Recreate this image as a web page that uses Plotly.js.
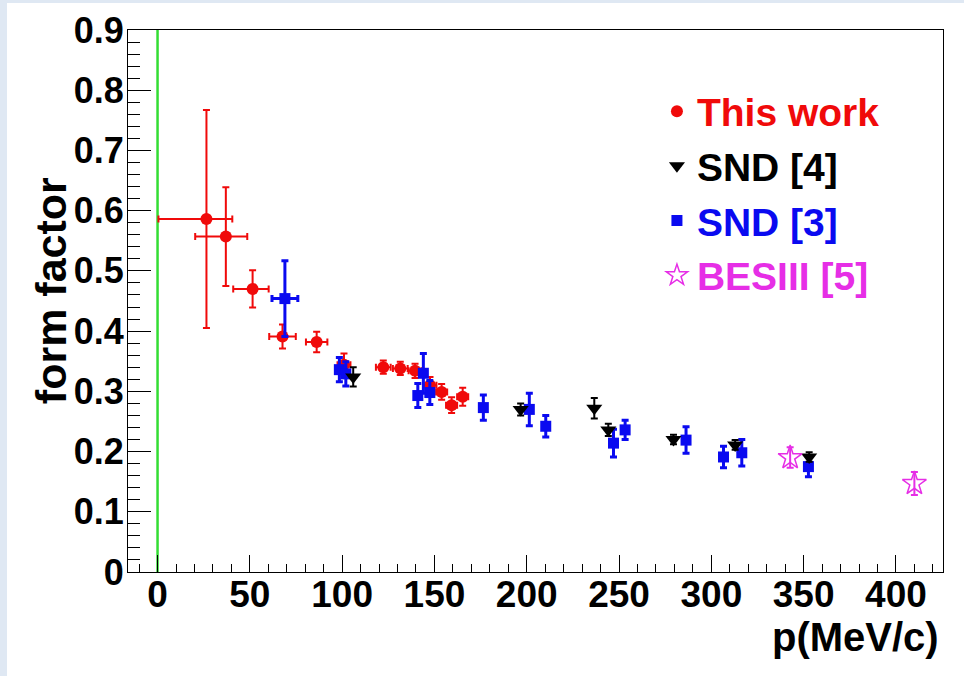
<!DOCTYPE html>
<html>
<head>
<meta charset="utf-8">
<script src="https://cdn.plot.ly/plotly-3.0.1.min.js"></script>
<style>
html,body{margin:0;padding:0;background:#dfe8f3;width:964px;height:676px;overflow:hidden;}
#chart{position:absolute;left:7px;top:3px;width:957px;height:673px;background:#fff;}
</style>
</head>
<body>
<div id="chart"></div>
<script>
// This work
const redX = [26.5, 37.0, 51.5, 67.7, 86.2, 101.0, 122.3, 131.5, 139.5, 147.6, 153.9, 159.3, 165.3];
const redY = [0.586, 0.557, 0.470, 0.391, 0.382, 0.344, 0.340, 0.338, 0.334, 0.310, 0.299, 0.277, 0.291];
const redYErr = [0.181, 0.082, 0.031, 0.020, 0.017, 0.019, 0.011, 0.011, 0.012, 0.014, 0.013, 0.013, 0.015];
const redXErrMinus = [26.0, 16.6, 10.5, 7.2, 5.8, 3.5, 4.0, 4.0, 3.5, 3.5, 3.0, 3.0, 3.0];
const redXErrPlus = [14.0, 11.6, 8.7, 7.2, 5.8, 3.5, 4.0, 4.0, 3.5, 3.5, 3.0, 3.0, 3.0];
// SND [4]
const snd4X = [106.0, 196.7, 236.6, 244.2, 279.5, 312.9, 353.0];
const snd4Y = [0.324, 0.270, 0.272, 0.236, 0.220, 0.211, 0.191];
const snd4Err = [0.016, 0.010, 0.017, 0.010, 0.008, 0.008, 0.008];
// SND [3]
const snd3X = [69.0, 98.5, 102.0, 141.0, 144.0, 147.5, 176.5, 201.4, 210.3, 247.0, 253.3, 286.3, 306.6, 316.5, 352.6];
const snd3Y = [0.454, 0.336, 0.329, 0.293, 0.330, 0.298, 0.273, 0.270, 0.242, 0.214, 0.236, 0.219, 0.191, 0.198, 0.175];
const snd3Err = [0.063, 0.020, 0.020, 0.020, 0.033, 0.020, 0.021, 0.027, 0.018, 0.023, 0.016, 0.022, 0.018, 0.022, 0.017];
const snd3XErr = [7.0, 0, 0, 0, 0, 0, 0, 0, 0, 0, 0, 0, 0, 0, 0];
// BESIII [5]
const besX = [342.7, 410.0];
const besY = [0.190, 0.147];
const besErr = [0.017, 0.019];

const RED = '#f00a0a', BLUE = '#0a0af0', BLACK = '#000000', MAG = '#e62ee6';
const FONT = 'Liberation Sans, Arial, sans-serif';

const traces = [
  {
    x: redX, y: redY, type: 'scatter', mode: 'markers', legendgroup: 'a',
    name: '<span style="color:' + RED + '">This work</span>', legendrank: 1,
    marker: {symbol: 'circle', size: 12, color: RED},
    error_y: {type: 'data', array: redYErr, visible: true, color: RED, thickness: 2, width: 3.5},
    error_x: {type: 'data', array: redXErrPlus, arrayminus: redXErrMinus, symmetric: false, visible: true, color: RED, thickness: 2, width: 3.5}
  },
  {
    x: snd3X, y: snd3Y, type: 'scatter', mode: 'markers', legendgroup: 'c',
    name: '<span style="color:' + BLUE + '">SND [3]</span>', legendrank: 3,
    marker: {symbol: 'square', size: 11, color: BLUE},
    error_y: {type: 'data', array: snd3Err, visible: true, color: BLUE, thickness: 3, width: 3.5},
    error_x: {type: 'data', array: snd3XErr, visible: true, color: BLUE, thickness: 3, width: 3.5}
  },
  {
    x: snd4X, y: snd4Y, type: 'scatter', mode: 'markers', legendgroup: 'b',
    name: '<span style="color:' + BLACK + '">SND [4]</span>', legendrank: 2,
    marker: {symbol: 'triangle-down', size: 14, color: BLACK},
    error_y: {type: 'data', array: snd4Err, visible: true, color: BLACK, thickness: 2, width: 3.5}
  },
  {
    x: besX, y: besY, type: 'scatter', mode: 'markers', legendgroup: 'd',
    name: '<span style="color:' + MAG + '">BESIII [5]</span>', legendrank: 4,
    marker: {symbol: 'star-open', size: 18, color: MAG, line: {color: MAG, width: 1.5}},
    error_y: {type: 'data', array: besErr, visible: true, color: MAG, thickness: 2, width: 3.5}
  }
];

const layout = {
  width: 957, height: 673,
  margin: {l: 121, r: 21, t: 27, b: 104},
  paper_bgcolor: '#ffffff', plot_bgcolor: '#ffffff',
  font: {family: FONT, size: 36, color: '#000', weight: 'bold'},
  showlegend: true,
  legend: {
    x: 0.649, y: 0.909, xanchor: 'left', yanchor: 'top',
    bgcolor: 'rgba(0,0,0,0)', borderwidth: 0,
    font: {family: FONT, size: 39, weight: 'bold'},
    tracegroupgap: 1
  },
  xaxis: {
    range: [-16, 425.5], showgrid: false, zeroline: false,
    showline: true, linecolor: '#000', linewidth: 1, mirror: true,
    ticks: 'inside', ticklen: 17, tickwidth: 1, tickcolor: '#000',
    tick0: 0, dtick: 50, ticklabelstandoff: -10,
    minor: {ticks: 'inside', dtick: 10, ticklen: 8, tickcolor: '#000', showgrid: false},
    tickfont: {family: FONT, size: 37, weight: 'bold'}
  },
  yaxis: {
    range: [0, 0.9], showgrid: false, zeroline: false,
    showline: true, linecolor: '#000', linewidth: 1, mirror: true,
    ticks: 'inside', ticklen: 23, tickwidth: 1, tickcolor: '#000',
    tick0: 0, dtick: 0.1, ticklabelstandoff: -4,
    minor: {ticks: 'inside', dtick: 0.02, ticklen: 12, tickcolor: '#000', showgrid: false},
    tickfont: {family: FONT, size: 36, weight: 'bold'}
  },
  shapes: [
    {type: 'line', xref: 'x', yref: 'y', x0: 0, x1: 0, y0: 0, y1: 0.9, line: {color: '#33dd33', width: 2.5}, layer: 'below'}
  ],
  annotations: [
    {text: 'form factor', xref: 'paper', yref: 'paper', x: -0.0945, y: 0.52, xanchor: 'center', yanchor: 'middle',
     textangle: -90, showarrow: false, font: {family: FONT, size: 43, weight: 'bold', color: '#000'}},
    {text: 'p(MeV/c)', xref: 'paper', yref: 'paper', x: 0.997, y: -0.12, xanchor: 'right', yanchor: 'middle',
     showarrow: false, font: {family: FONT, size: 40, weight: 'bold', color: '#000'}}
  ]
};

Plotly.newPlot('chart', traces, layout, {displayModeBar: false, staticPlot: true});
</script>
</body>
</html>
